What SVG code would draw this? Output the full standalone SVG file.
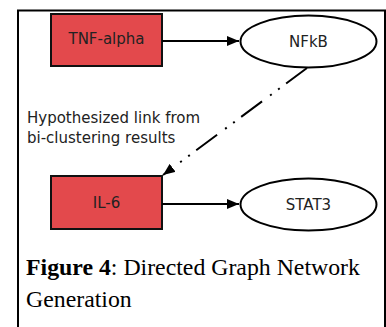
<svg xmlns="http://www.w3.org/2000/svg" width="386" height="327" viewBox="0 0 386 327">
<defs>
<style>
.box{fill:#e3494c;stroke:#111;stroke-width:2}
.ell{fill:#fff;stroke:#000;stroke-width:2}
.lbl{font-family:"DejaVu Sans",sans-serif;font-size:15px;fill:#222;text-anchor:middle}
.note{font-family:"DejaVu Sans",sans-serif;font-size:15px;fill:#222}
.cap{font-family:"Liberation Serif","Times New Roman",serif;font-size:23.8px;fill:#000}
.edge{stroke:#000;stroke-width:2;fill:none}
</style>
<marker id="ah" viewBox="0 0 12 10" refX="12" refY="5" markerWidth="12" markerHeight="10" markerUnits="userSpaceOnUse" orient="auto">
<path d="M0,0 L12,5 L0,10 Z" fill="#000"/>
</marker>
</defs>
<rect width="386" height="327" fill="#fff"/>
<path d="M18,327 V10.5 H385 V327" fill="none" stroke="#000" stroke-width="2"/>
<g id="tnf"><rect class="box" x="51" y="14" width="111" height="52"/><text class="lbl" x="106.5" y="44">TNF-alpha</text></g>
<g id="nfkb"><ellipse class="ell" cx="308.5" cy="41.5" rx="68" ry="26"/><text class="lbl" x="308.5" y="47">NFkB</text></g>
<g id="il6"><rect class="box" x="51" y="176" width="111" height="53"/><text class="lbl" x="106.5" y="208">IL-6</text></g>
<g id="stat3"><ellipse class="ell" cx="308.5" cy="204.5" rx="68" ry="26"/><text class="lbl" x="308.5" y="210">STAT3</text></g>
<g id="connectors">
<line class="edge" x1="162" y1="41" x2="239" y2="41" marker-end="url(#ah)"/>
<line class="edge" x1="162" y1="204" x2="239" y2="204" marker-end="url(#ah)"/>
<line class="edge" x1="307" y1="68" x2="163" y2="175" stroke-dasharray="26,8,2,8,2,10" marker-end="url(#ah)"/>
</g>
<text class="note" x="27" y="123">Hypothesized link from</text>
<text class="note" x="27" y="143">bi-clustering results</text>
<text class="cap" x="26" y="275"><tspan font-weight="bold">Figure 4</tspan>: Directed Graph Network</text>
<text class="cap" x="26" y="307">Generation</text>
</svg>
